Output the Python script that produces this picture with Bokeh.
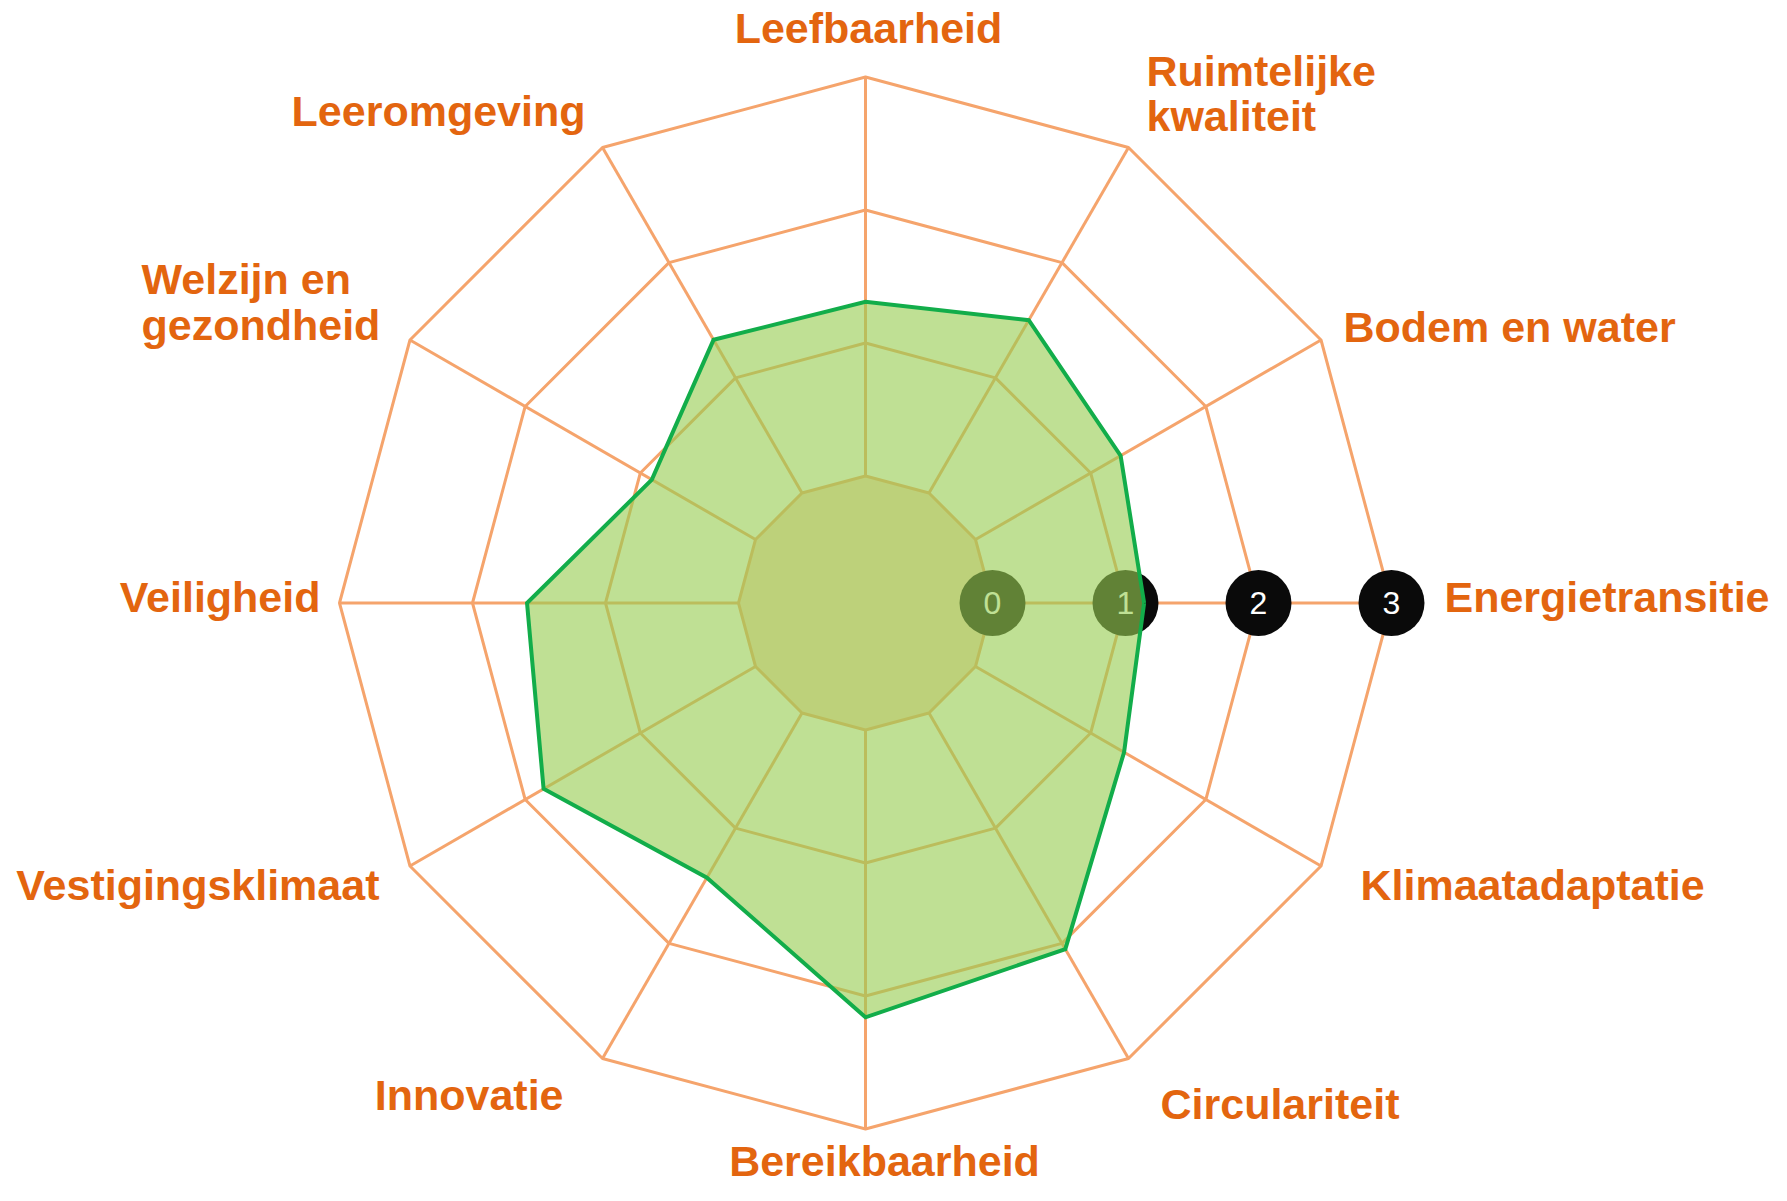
import numpy as np
from bokeh.plotting import figure
from bokeh.models import Range1d
from bokeh.core.properties import value
from bokeh.embed import file_html
from bokeh.resources import INLINE

# ---- data ----
categories = ["Energietransitie", "Bodem en water", "Ruimtelijke kwaliteit",
              "Leefbaarheid", "Leeromgeving", "Welzijn en gezondheid",
              "Veiligheid", "Vestigingsklimaat", "Innovatie",
              "Bereikbaarheid", "Circulariteit", "Klimaatadaptatie"]
scores = [1.14, 1.26, 1.50, 1.31, 1.33, 0.90, 1.59, 1.84, 1.43, 2.16, 2.05, 1.29]
levels = [0, 1, 2, 3]
level_labels = ["0", "1", "2", "3"]

# ---- layout / style ----
W, H = 1771, 1185
CX, CY = 865.0, 602.5          # centre (picture pixels, y down)
R0, STEP = 127.0, 133.0        # radius of level 0 and per-level step
TEXT_SHIFT = 16                # baseline correction for svg text
ORANGE = "#f5a46c"
TEXT = "#e3650f"
GREEN_LINE = "#12ad4a"
GREEN_FILL = "#98cd52"
PEACH = "#fad8bb"

n = len(categories)
angles = np.deg2rad(np.arange(n) * 360.0 / n)


def radius(v):
    return R0 + STEP * np.asarray(v, dtype=float)


def to_xy(v, ang):
    r = radius(v)
    return CX + r * np.cos(ang), CY - r * np.sin(ang)


p = figure(width=W, height=H, output_backend="svg", toolbar_location=None,
           x_range=Range1d(0, W), y_range=Range1d(H, 0),
           min_border=0, outline_line_color=None, background_fill_color="white",
           border_fill_color="white")
p.axis.visible = False
p.xgrid.visible = False
p.ygrid.visible = False

# inner (level 0) area fill
ix, iy = to_xy(np.full(n, levels[0]), angles)
p.patch(list(ix), list(iy), fill_color=PEACH, line_color=None)

# ring polygons
ring_xs, ring_ys = [], []
for lv in levels:
    x, y = to_xy(np.full(n, lv), angles)
    ring_xs.append(list(x) + [x[0]])
    ring_ys.append(list(y) + [y[0]])
p.multi_line(ring_xs, ring_ys, line_color=ORANGE, line_width=3)

# spokes from level 0 to outer level
x0, y0 = to_xy(np.full(n, levels[0]), angles)
x1, y1 = to_xy(np.full(n, levels[-1]), angles)
p.segment(x0, y0, x1, y1, line_color=ORANGE, line_width=3)

# level markers along first axis
lx, ly = to_xy(levels, np.zeros(len(levels)))
p.scatter(lx, ly, size=66, fill_color="#0a0a0a", line_color=None)
p.text(lx, ly, text=level_labels, text_color="white", text_align="center",
       text_baseline="middle", text_font=value("Liberation Sans"),
       text_font_size="32px")

# data polygon
sx, sy = to_xy(scores, angles)
p.patch(list(sx), list(sy), fill_color=GREEN_FILL, fill_alpha=0.62,
        line_color=None)
p.line(list(sx) + [sx[0]], list(sy) + [sy[0]], line_color=GREEN_LINE,
       line_width=4, line_join="miter")

# category labels (positions are layout: x, baselines, alignment)
label_layout = {
    "Energietransitie": (1444, [612], "left"),
    "Bodem en water": (1343, [342], "left"),
    "Ruimtelijke kwaliteit": (1146, [86, 131], "left"),
    "Leefbaarheid": (868, [43], "center"),
    "Leeromgeving": (438, [126], "center"),
    "Welzijn en gezondheid": (141, [294, 340], "left"),
    "Veiligheid": (320, [612], "right"),
    "Vestigingsklimaat": (379, [900], "right"),
    "Innovatie": (563, [1110], "right"),
    "Bereikbaarheid": (884, [1176], "center"),
    "Circulariteit": (1160, [1119], "left"),
    "Klimaatadaptatie": (1360, [900], "left"),
}
split = {"Ruimtelijke kwaliteit": ["Ruimtelijke", "kwaliteit"],
         "Welzijn en gezondheid": ["Welzijn en", "gezondheid"]}

for align in ("left", "center", "right"):
    tx, ty, tt = [], [], []
    for cat in categories:
        x, ys, a = label_layout[cat]
        if a != align:
            continue
        lines = split.get(cat, [cat])
        for line, y in zip(lines, ys):
            tx.append(x)
            ty.append(y - TEXT_SHIFT)
            tt.append(line)
    if tt:
        p.text(tx, ty, text=tt, text_color=TEXT, text_align=align,
               text_baseline="alphabetic", text_font=value("Liberation Sans"),
               text_font_style="bold", text_font_size="43px")

open("out.html", "w").write(file_html(p, INLINE))
